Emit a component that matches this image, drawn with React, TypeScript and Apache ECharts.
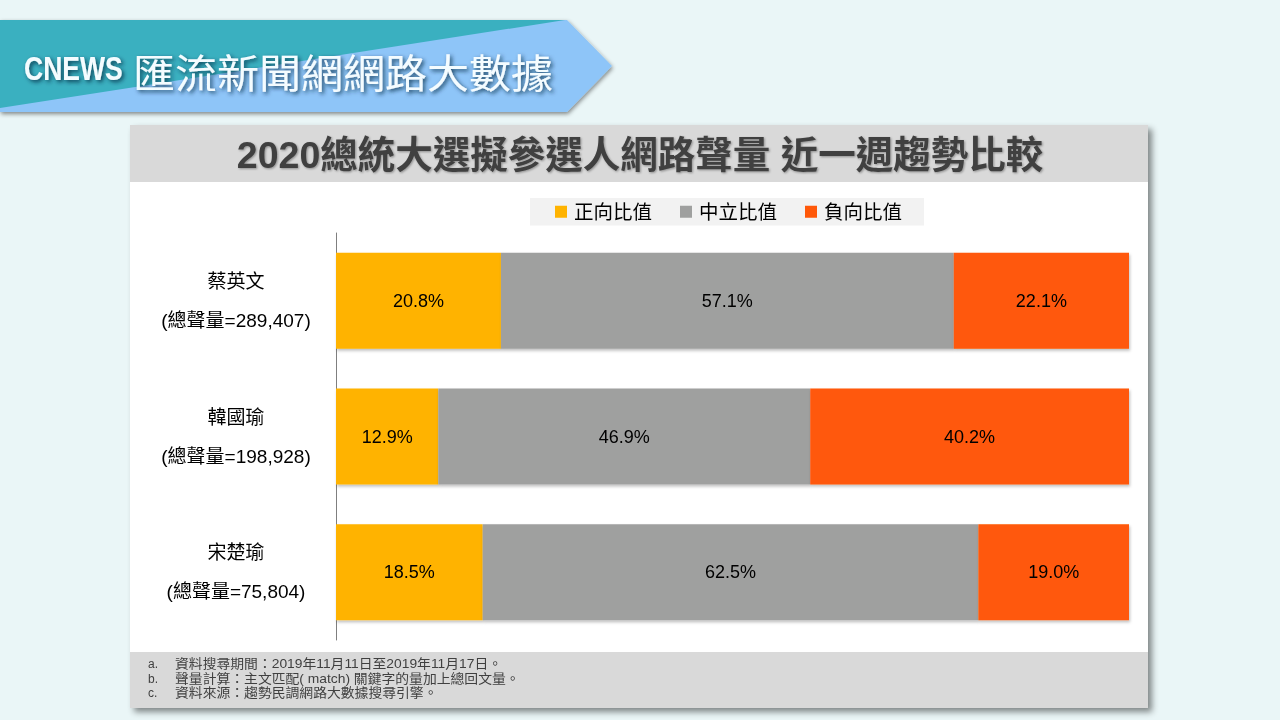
import React, { useEffect, useRef } from "react";
import * as echarts from "echarts";

const candidates = ["蔡英文", "韓國瑜", "宋楚瑜"];
const totals = ["289,407", "198,928", "75,804"];
const seriesNames = ["正向比值", "中立比值", "負向比值"];
const positive = [20.8, 12.9, 18.5];
const neutral = [57.1, 46.9, 62.5];
const negative = [22.1, 40.2, 19.0];
const colors = ["#FFB300", "#9FA09F", "#FF5809"];
const footnotes = [
  ["a.", "資料搜尋期間：2019年11月11日至2019年11月17日。"],
  ["b.", "聲量計算：主文匹配( match) 關鍵字的量加上總回文量。"],
  ["c.", "資料來源：趨勢民調網路大數據搜尋引擎。"],
];
const titleText = "2020總統大選擬參選人網路聲量 近一週趨勢比較";

const CJK = "'Liberation Sans', 'Noto Sans CJK TC', sans-serif";

export default function App() {
  const ref = useRef<HTMLDivElement>(null);
  useEffect(() => {
    const chart = echarts.init(ref.current!, null, { renderer: "svg" });
    const dataSets = [positive, neutral, negative];
    const graphic: any[] = [
      { type: "rect", z: -20, shape: { x: 0, y: 0, width: 1280, height: 720 }, style: { fill: "#EAF6F7" } },
      // banner
      {
        type: "polygon", z: -10,
        shape: { points: [[0, 20], [567, 20], [612, 66], [567, 112], [0, 112]] },
        style: { fill: "#8EC5F8", shadowBlur: 4, shadowOffsetY: 2, shadowOffsetX: 1, shadowColor: "rgba(0,0,0,0.45)" },
      },
      {
        type: "polygon", z: -9,
        shape: { points: [[0, 20], [565, 20], [0, 108]] },
        style: { fill: "#3AB0C0" },
      },
      {
        type: "text", z: -8, x: 24, y: 68, scaleX: 0.78,
        style: {
          text: "CNEWS", fill: "#F4FCFF", fontSize: 34, fontWeight: "bold",
          fontFamily: "'Liberation Sans', sans-serif",
          verticalAlign: "middle",
          textShadowColor: "rgba(0,40,60,0.8)", textShadowBlur: 4, textShadowOffsetX: 2, textShadowOffsetY: 2,
        },
      },
      {
        type: "text", z: -8, x: 133, y: 70, scaleX: 1.05,
        style: {
          text: "匯流新聞網網路大數據", fill: "#F4FCFF", fontSize: 40,
          fontFamily: "'Noto Sans CJK TC', sans-serif",
          verticalAlign: "middle",
          textShadowColor: "rgba(0,40,60,0.8)", textShadowBlur: 4, textShadowOffsetX: 2, textShadowOffsetY: 2,
        },
      },
      // card
      {
        type: "rect", z: -10, shape: { x: 130, y: 125, width: 1018, height: 583 },
        style: { fill: "#fff", shadowBlur: 6, shadowOffsetX: 4, shadowOffsetY: 4, shadowColor: "rgba(0,0,0,0.45)" },
      },
      { type: "rect", z: -9, shape: { x: 130, y: 125, width: 1018, height: 57 }, style: { fill: "#D9D9D9" } },
      { type: "rect", z: -9, shape: { x: 130, y: 652, width: 1018, height: 56 }, style: { fill: "#D9D9D9" } },
      {
        type: "text", z: -8, x: 640, y: 155,
        style: {
          text: titleText, fill: "#404040", fontSize: 37.5, fontWeight: "bold",
          fontFamily: CJK, align: "center", verticalAlign: "middle",
          textShadowColor: "rgba(0,0,0,0.35)", textShadowBlur: 2, textShadowOffsetX: 1, textShadowOffsetY: 1,
        },
      },
    ];
    footnotes.forEach((f, i) => {
      graphic.push({
        type: "text", z: -8, x: 148, y: 664 + i * 14.5,
        style: { text: f[0], fill: "#404040", fontSize: 12, fontFamily: CJK, verticalAlign: "middle" },
      });
      graphic.push({
        type: "text", z: -8, x: 175, y: 664 + i * 14.5, scaleX: 1.08,
        style: { text: f[1], fill: "#404040", fontSize: 12.8, fontFamily: CJK, verticalAlign: "middle" },
      });
    });

    chart.setOption({
      animation: false,
      graphic,
      legend: {
        data: seriesNames,
        left: 530,
        top: 198,
        padding: [4, 22, 4, 25],
        backgroundColor: "#F2F2F2",
        icon: "rect",
        itemWidth: 12,
        itemHeight: 12,
        itemGap: 28,
        textStyle: { fontSize: 19.5, color: "#000", fontFamily: CJK, padding: [2, 0, 0, 2] },
      },
      grid: { left: 336, right: 151, top: 233, bottom: 80 },
      xAxis: { type: "value", min: 0, max: 100, show: false },
      yAxis: {
        type: "category",
        inverse: true,
        data: candidates,
        axisLine: { show: true, lineStyle: { color: "#7F7F7F", width: 1 } },
        axisTick: { show: false },
        axisLabel: {
          align: "center",
          margin: 100,
          formatter: (v: string, i: number) => `{a|${v}}\n{a|(總聲量=${totals[i]})}`,
          rich: { a: { fontSize: 19, lineHeight: 39, color: "#000", fontFamily: CJK } },
        },
      },
      series: dataSets.map((d, k) => ({
        name: seriesNames[k],
        type: "bar",
        stack: "all",
        barWidth: 96,
        data: d,
        itemStyle: {
          color: colors[k],
          shadowBlur: 3, shadowOffsetY: 2, shadowOffsetX: 1, shadowColor: "rgba(0,0,0,0.25)",
        },
        label: {
          show: true,
          position: "inside",
          formatter: (p: any) => p.value.toFixed(1) + "%",
          fontSize: 18,
          color: "#000",
          fontFamily: "'Liberation Sans', sans-serif",
        },
      })),
    });
    return () => chart.dispose();
  }, []);
  return (
    <div
      ref={ref}
      style={{ position: "fixed", left: 0, top: 0, width: 1280, height: 720 }}
    />
  );
}
